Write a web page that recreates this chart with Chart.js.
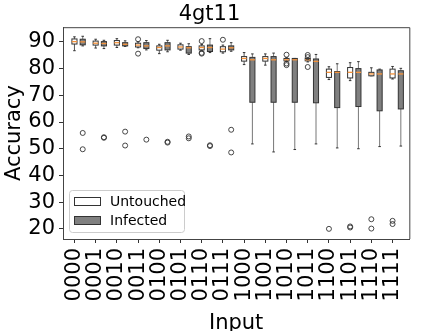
<!DOCTYPE html>
<html>
<head>
<meta charset="utf-8">
<script src="https://cdn.jsdelivr.net/npm/chart.js@4/dist/chart.umd.min.js"></script>
<style>
  html, body { margin: 0; padding: 0; background: #fff; }
  #wrap { width: 423px; height: 331px; }
</style>
</head>
<body>
<div id="wrap"><canvas id="chart"></canvas></div>
<script>
/* 4gt11 accuracy box plot: untouched vs infected per input */

const inputs = ["0000", "0001", "0010", "0011", "0100", "0101", "0110", "0111",
                "1000", "1001", "1010", "1011", "1100", "1101", "1110", "1111"];
const yTickValues = [20, 30, 40, 50, 60, 70, 80, 90];

// untouched: whisker low, q1, median, q3, whisker high
const untouchedLow  = [86.7, 87.7, 87.9, 87.8, 85.6, 86.9, 86.6, 85.8, 81.5, 81.3, 82.6, 82.5, 75.9, 75.5, 77.3, 76.1];
const untouchedQ1   = [89.2, 88.8, 88.8, 88.1, 86.9, 87.3, 87.0, 86.3, 82.8, 82.8, 82.9, 82.9, 76.7, 76.5, 77.3, 76.5];
const untouchedMed  = [90.1, 89.5, 89.7, 88.8, 87.9, 88.1, 87.9, 87.3, 83.8, 83.8, 83.3, 83.3, 78.6, 78.6, 78.0, 78.0];
const untouchedQ3   = [91.1, 90.3, 90.5, 89.5, 88.5, 88.9, 88.5, 88.2, 84.5, 84.5, 83.8, 83.8, 79.8, 80.4, 78.6, 79.8];
const untouchedHigh = [91.9, 91.0, 91.2, 90.0, 89.1, 89.5, 89.0, 88.8, 86.0, 85.5, 84.1, 84.0, 80.7, 82.2, 80.3, 80.8];
const untouchedFliers = [[], [], [], [91.0, 85.6], [], [], [90.3, 85.9, 85.6], [90.8],
                         [], [], [85.2, 81.9, 81.3], [85.1, 84.3, 80.6], [20.0], [20.9, 20.5], [23.6, 20.1], [23.0, 21.8]];

// infected
const infectedLow  = [88.5, 87.5, 88.3, 87.0, 86.3, 85.3, 86.0, 86.5, 51.8, 48.8, 49.7, 51.8, 50.3, 50.0, 50.8, 51.0];
const infectedQ1   = [88.9, 88.5, 88.5, 87.5, 87.0, 85.8, 86.4, 87.0, 67.4, 67.4, 67.4, 67.2, 65.4, 65.8, 64.2, 64.9];
const infectedMed  = [90.0, 89.4, 89.1, 88.5, 88.5, 87.8, 87.9, 87.8, 83.3, 83.3, 83.3, 82.7, 78.6, 78.6, 78.0, 78.0];
const infectedQ3   = [91.0, 90.1, 89.7, 89.7, 89.7, 88.2, 88.8, 88.5, 84.2, 84.5, 83.8, 83.6, 78.9, 80.0, 79.5, 79.2];
const infectedHigh = [92.1, 90.6, 90.4, 90.5, 90.6, 89.3, 91.2, 89.7, 85.5, 85.8, 83.8, 85.3, 81.8, 82.6, 79.8, 80.1];
const infectedFliers = [[55.9, 49.8], [54.1, 54.3], [56.4, 51.2], [53.4], [52.3, 52.6], [54.6, 53.9], [51.3, 51.0], [57.1, 48.6],
                        [], [], [], [], [], [], [], []];

const UNTOUCHED_SHIFT = 0;
const INFECTED_SHIFT = 0.39;
const BOX_HALF = 0.12;
const CAP_HALF = 0.06;

Chart.defaults.font.family = "'DejaVu Sans', sans-serif";
Chart.defaults.color = "#000";

function fliersToPoints(fliers, shift) {
  const pts = [];
  fliers.forEach((list, i) => list.forEach((v) => pts.push({ x: i + shift, y: v })));
  return pts;
}

const groups = [
  { shift: UNTOUCHED_SHIFT, lo: untouchedLow, q1: untouchedQ1, med: untouchedMed, q3: untouchedQ3, hi: untouchedHigh,
    fill: "#ffffff", edge: "#333333", whisker: "#555555" },
  { shift: INFECTED_SHIFT, lo: infectedLow, q1: infectedQ1, med: infectedMed, q3: infectedQ3, hi: infectedHigh,
    fill: "#808080", edge: "#333333", whisker: "#777777" },
];

const boxPlugin = {
  id: "boxes",
  beforeDatasetsDraw(chart) {
    const { ctx, scales: { x, y } } = chart;
    ctx.save();
    ctx.lineWidth = 1;
    for (const g of groups) {
      inputs.forEach((_, i) => {
        const cx = x.getPixelForValue(i + g.shift);
        const l = x.getPixelForValue(i + g.shift - BOX_HALF);
        const r = x.getPixelForValue(i + g.shift + BOX_HALF);
        const cl = x.getPixelForValue(i + g.shift - CAP_HALF);
        const cr = x.getPixelForValue(i + g.shift + CAP_HALF);
        const yLo = y.getPixelForValue(g.lo[i]);
        const yQ1 = y.getPixelForValue(g.q1[i]);
        const yMed = y.getPixelForValue(g.med[i]);
        const yQ3 = y.getPixelForValue(g.q3[i]);
        const yHi = y.getPixelForValue(g.hi[i]);
        // whiskers
        ctx.strokeStyle = g.whisker;
        ctx.beginPath();
        ctx.moveTo(cx, yQ1); ctx.lineTo(cx, yLo);
        ctx.moveTo(cx, yQ3); ctx.lineTo(cx, yHi);
        ctx.stroke();
        ctx.strokeStyle = g.edge;
        ctx.beginPath();
        ctx.moveTo(cl, yLo); ctx.lineTo(cr, yLo);
        ctx.moveTo(cl, yHi); ctx.lineTo(cr, yHi);
        ctx.stroke();
        // box
        ctx.fillStyle = g.fill;
        ctx.fillRect(l, yQ3, r - l, yQ1 - yQ3);
        ctx.strokeRect(l, yQ3, r - l, yQ1 - yQ3);
        // median
        ctx.strokeStyle = "#f5923a";
        ctx.lineWidth = 1.3;
        ctx.beginPath();
        ctx.moveTo(l, yMed); ctx.lineTo(r, yMed);
        ctx.stroke();
        ctx.lineWidth = 1;
      });
    }
    ctx.restore();
  },
  afterDraw(chart) {
    const { ctx, chartArea: a } = chart;
    ctx.save();
    // top and right spines
    ctx.strokeStyle = "#444";
    ctx.lineWidth = 1;
    ctx.beginPath();
    ctx.moveTo(a.left, a.top + 0.5); ctx.lineTo(a.right + 0.5, a.top + 0.5); ctx.lineTo(a.right + 0.5, a.bottom);
    ctx.stroke();
    // legend
    const lx = a.left + 6, ly = a.bottom - 49, lw = 115, lh = 42;
    ctx.fillStyle = "rgba(255,255,255,0.8)";
    ctx.strokeStyle = "#cccccc";
    ctx.beginPath();
    ctx.roundRect(lx + 0.5, ly + 0.5, lw, lh, 3);
    ctx.fill(); ctx.stroke();
    const items = [["Untouched", "#ffffff"], ["Infected", "#808080"]];
    ctx.font = "14px 'DejaVu Sans'";
    ctx.textBaseline = "middle";
    items.forEach(([label, fill], k) => {
      const py = ly + 7 + k * 19;
      ctx.fillStyle = fill;
      ctx.strokeStyle = "#333";
      ctx.fillRect(lx + 5.5, py + 0.5, 26, 8);
      ctx.strokeRect(lx + 5.5, py + 0.5, 26, 8);
      ctx.fillStyle = "#000";
      ctx.fillText(label, lx + 41, py + 5);
    });
    ctx.restore();
  },
};

const flierStyle = { type: "scatter", pointStyle: "circle", pointRadius: 2.5, pointBorderWidth: 0.9,
  pointBackgroundColor: "rgba(0,0,0,0)", pointBorderColor: "#333" };

new Chart(document.getElementById("chart"), {
  data: {
    datasets: [
      { ...flierStyle, label: "Untouched", data: fliersToPoints(untouchedFliers, UNTOUCHED_SHIFT) },
      { ...flierStyle, label: "Infected", data: fliersToPoints(infectedFliers, INFECTED_SHIFT) },
    ],
  },
  options: {
    responsive: true, maintainAspectRatio: false, animation: false,
    layout: { padding: { left: 0, right: 4, top: 0, bottom: 0 } },
    plugins: {
      legend: { display: false },
      tooltip: { enabled: false },
      title: { display: true, text: "4gt11", font: { size: 21, weight: "normal" }, padding: { top: 2, bottom: 0 }, color: "#000" },
    },
    scales: {
      x: {
        type: "linear", min: -0.54, max: 15.79,
        afterBuildTicks: (s) => { s.ticks = inputs.map((_, i) => ({ value: i })); },
        afterFit: (s) => { s.height = 92; },
        ticks: { autoSkip: false, minRotation: 90, maxRotation: 90, padding: 5, font: { size: 21 },
          callback: (v, i) => inputs[i] },
        grid: { drawOnChartArea: false, tickLength: 4, color: "#333" },
        border: { color: "#444" },
        title: { display: true, text: "Input", font: { size: 21 }, padding: { top: 0, bottom: -5 } },
      },
      y: {
        type: "linear", min: 16.2, max: 95.5,
        afterBuildTicks: (s) => { s.ticks = yTickValues.map((v) => ({ value: v })); },
        afterFit: (s) => { s.width = 63; },
        ticks: { padding: 4, font: { size: 21 } },
        grid: { drawOnChartArea: false, tickLength: 4, color: "#333" },
        border: { color: "#444" },
        title: { display: true, text: "Accuracy", font: { size: 21 }, padding: { top: 2, bottom: 0 } },
      },
    },
  },
  plugins: [boxPlugin],
});
</script>
</body>
</html>
